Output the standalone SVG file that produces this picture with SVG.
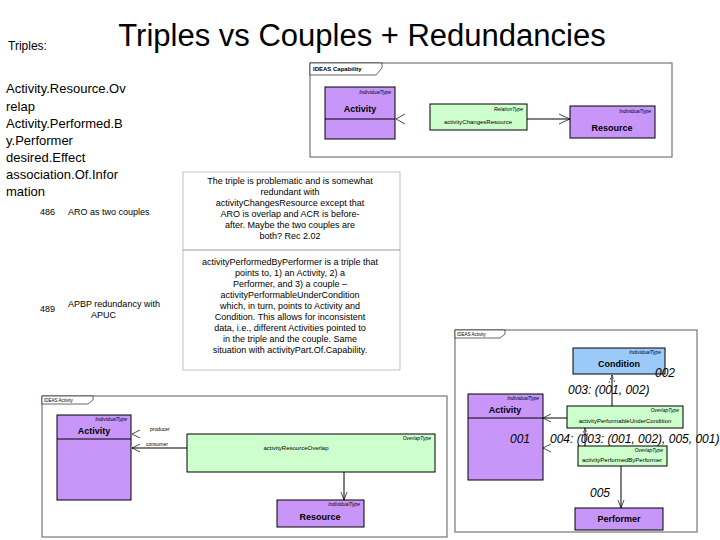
<svg xmlns="http://www.w3.org/2000/svg" width="720" height="540" viewBox="0 0 720 540">
<style>
text{font-family:"Liberation Sans",Arial,sans-serif;fill:#000}
.frame{fill:#fff;stroke:#777;stroke-width:1.2}
.tab{fill:#fff;stroke:#000;stroke-width:0.6}
.p{fill:#c896f8;stroke:#000;stroke-width:1}
.g{fill:#ccffcc;stroke:#000;stroke-width:1}
.b{fill:#9ccaf8;stroke:#000;stroke-width:1}
.st{font-size:5px;font-style:italic;text-anchor:end}
.nm{font-size:9px;font-weight:bold;text-anchor:middle}
.nm2{font-size:6px;text-anchor:middle}
.ln{stroke:#000;stroke-width:1;fill:none}
.ar{stroke:#000;stroke-width:0.7;fill:none}
.d{stroke:#000;stroke-width:0.7;fill:none;stroke-dasharray:2,1.5}
.body{font-size:13px}
.cell{font-size:9px}
.num{font-size:12px;font-style:italic}
.cellbox{fill:none;stroke:#999;stroke-width:0.6}
</style>
<rect width="720" height="540" fill="#fff"/>
<text x="8" y="50" font-size="12">Triples:</text>
<text x="362" y="46" font-size="31" text-anchor="middle">Triples vs Couples + Redundancies</text>
<g id="list" class="body">
<text x="6" y="93" class="body">Activity.Resource.Ov</text>
<text x="6" y="111" class="body">relap</text>
<text x="6" y="128" class="body">Activity.Performed.B</text>
<text x="6" y="145" class="body">y.Performer</text>
<text x="6" y="162" class="body">desired.Effect</text>
<text x="6" y="179" class="body">association.Of.Infor</text>
<text x="6" y="196" class="body">mation</text>
</g>
<g id="table">
<rect class="cellbox" x="183" y="172" width="217" height="78"/>
<rect class="cellbox" x="183" y="250" width="217" height="120"/>
<text x="40" y="215" class="cell">486</text>
<text x="68" y="215" class="cell">ARO as two couples</text>
<text x="40" y="312" class="cell">489</text>
<text x="68" y="307" class="cell">APBP redundancy with</text>
<text x="91" y="318" class="cell">APUC</text>
<g class="cell" text-anchor="middle">
<text x="290" y="184">The triple is problematic and is somewhat</text>
<text x="290" y="195">redundant with</text>
<text x="290" y="206">activityChangesResource except that</text>
<text x="290" y="217">ARO is overlap and ACR is before-</text>
<text x="290" y="228">after.  Maybe the two couples are</text>
<text x="290" y="239">both?  Rec 2.02</text>
<text x="290" y="265">activityPerformedByPerformer is a triple that</text>
<text x="290" y="276">points to, 1) an Activity, 2) a</text>
<text x="290" y="287">Performer, and 3) a couple –</text>
<text x="290" y="298">activityPerformableUnderCondition</text>
<text x="290" y="309">which, in turn, points to Activity and</text>
<text x="290" y="320">Condition.  This allows for inconsistent</text>
<text x="290" y="331">data, i.e., different Activities pointed to</text>
<text x="290" y="342">in the triple and the couple.  Same</text>
<text x="290" y="353">situation with activityPart.Of.Capability.</text>
</g>
</g>
<g id="cap">
<rect class="frame" x="310" y="63" width="362" height="94"/>
<path class="tab" d="M310,63 H382 V68 L376,75 H310 Z"/>
<text x="313" y="71" font-size="6" font-weight="bold">IDEAS Capability</text>
</g>
<g id="cap-activity"><rect class="p" x="325" y="87" width="70" height="52"/><line class="ln" x1="325" y1="119" x2="395" y2="119"/><text class="st" x="391" y="94">IndividualType</text><text class="nm" x="360" y="112">Activity</text></g>
<g id="cap-acr"><rect class="g" x="430" y="104" width="97" height="26"/><text class="st" x="523" y="111">RelationType</text><text class="nm2" x="478" y="124">activityChangesResource</text></g>
<g id="cap-resource"><rect class="p" x="570" y="106" width="85" height="32"/><text class="st" x="651" y="113">IndividualType</text><text class="nm" x="612" y="131" font-weight="normal">Resource</text></g>
<g id="bl">
<rect class="frame" x="42" y="396" width="405" height="141"/>
<path class="tab" d="M42,396 H93 V400 L88,404 H42 Z"/>
<text x="44" y="402" font-size="4.5">IDEAS Activity</text>
</g>
<g id="bl-activity"><rect class="p" x="57" y="415" width="74" height="85"/><line class="ln" x1="57" y1="439" x2="131" y2="439"/><text class="st" x="127" y="421">IndividualType</text><text class="nm" x="94" y="434">Activity</text></g>
<g id="bl-aro"><rect class="g" x="187" y="434" width="248" height="38"/><text class="st" x="431" y="440">OverlapType</text><text class="nm2" x="296" y="450" font-size="5">activityResourceOverlap</text></g>
<g id="bl-resource"><rect class="p" x="277" y="500" width="87" height="27"/><text class="st" x="360" y="506">IndividualType</text><text class="nm" x="320" y="520" font-weight="normal">Resource</text></g>
<g id="br">
<rect class="frame" x="455" y="330" width="242" height="202"/>
<path class="tab" d="M455,330 H505 V334 L500,338 H455 Z"/>
<text x="457" y="336" font-size="4.5">IDEAS Activity</text>
</g>
<g id="br-condition"><rect class="b" x="573" y="348" width="92" height="26"/><text class="st" x="661" y="354">IndividualType</text><text class="nm" x="619" y="367" font-size="7">Condition</text></g>
<g id="br-activity"><rect class="p" x="468" y="394" width="75" height="86"/><line class="ln" x1="468" y1="418" x2="543" y2="418"/><text class="st" x="539" y="400">IndividualType</text><text class="nm" x="505" y="413" font-size="7">Activity</text></g>
<g id="br-apuc"><rect class="g" x="567" y="406" width="116" height="22"/><text class="st" x="679" y="412">OverlapType</text><text class="nm2" x="625" y="423" font-size="5">activityPerformableUnderCondition</text></g>
<g id="br-apbp"><rect class="g" x="578" y="446" width="89" height="20"/><text class="st" x="663" y="452">OverlapType</text><text class="nm2" x="622" y="462" font-size="5">activityPerformedByPerformer</text></g>
<g id="br-performer"><rect class="p" x="575" y="508" width="88" height="22"/><text class="nm" x="619" y="522" font-size="7">Performer</text></g>
<g id="connectors">
<line class="ln" x1="527" y1="119" x2="570" y2="119"/>
<path class="ar" d="M559,114 L570,119 L559,124"/>
<path class="ar" d="M405,114 L396,119 L405,124"/>
<path class="ar" d="M140,430 L132,434 L140,438"/>
<text x="150" y="431" font-size="5">producer</text>
<line class="ln" x1="132" y1="448" x2="187" y2="448"/>
<path class="ar" d="M140,444 L132,448 L140,452"/>
<text x="146" y="446" font-size="5">consumer</text>
<line class="ln" x1="344" y1="472" x2="344" y2="500"/>
<path class="ar" d="M341,492 L344,500 L347,492"/>
<line class="ln" x1="612" y1="406" x2="612" y2="375"/>
<path class="d" d="M609,383 L612,375 L615,383"/>
<line class="ln" x1="567" y1="418" x2="543" y2="418"/>
<path class="ar" d="M551,414 L543,418 L551,422"/>
<line class="ln" x1="585" y1="446" x2="585" y2="428"/>
<path class="d" d="M582,436 L585,428 L588,436"/>
<path class="ar" d="M551,444 L543,448 L551,452"/>
<line class="ln" x1="621" y1="466" x2="621" y2="508"/>
<path class="ar" d="M618,500 L621,508 L624,500"/>
</g>
<g id="labels" class="num">
<text x="655" y="377" class="num">002</text>
<text x="568" y="394" class="num">003:  (001, 002)</text>
<text x="510" y="443" class="num">001</text>
<text x="550" y="443" class="num">004:  (003: (001, 002), 005, 001)</text>
<text x="590" y="497" class="num">005</text>
</g>
</svg>
